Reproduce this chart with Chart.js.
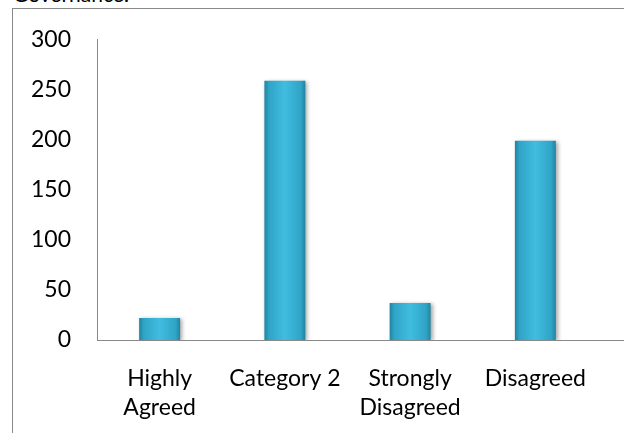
<!DOCTYPE html>
<html>
<head>
<meta charset="utf-8">
<script src="https://cdn.jsdelivr.net/npm/chart.js@4/dist/chart.umd.min.js"></script>
<style>
  html, body { margin:0; padding:0; background:#fff; }
  body { width:624px; height:433px; position:relative; overflow:hidden; font-family:Lato, sans-serif; }
  .frame { position:absolute; left:12px; top:8px; width:640px; height:460px; border-left:1px solid #888; border-top:1px solid #888; }
  .caption { position:absolute; left:13px; top:-19px; font-size:21px; color:#000; }
  .wrap { position:absolute; left:0; top:0; width:624px; height:433px; }
</style>
</head>
<body>
<div class="caption">Governance.</div>
<div class="frame"></div>
<div class="wrap"><canvas id="chart"></canvas></div>
<script>
// Data
const categories = [['Highly', 'Agreed'], 'Category 2', ['Strongly', 'Disagreed'], 'Disagreed'];
const values     = [22, 259, 37, 199];
const yTicks     = [0, 50, 100, 150, 200, 250, 300];

// Bar fill: dark edges, light middle
function barFill(c) {
    const chart = c.chart;
    if (!chart.chartArea) return '#38b0d0';
    const x = chart.scales.x.getPixelForValue(c.dataIndex);
    const g = chart.ctx.createLinearGradient(x - 21, 0, x + 21, 0);
    g.addColorStop(0, '#1f7f9c');
    g.addColorStop(0.12, '#2fa4c6');
    g.addColorStop(0.5, '#40bde0');
    g.addColorStop(0.88, '#2fa4c6');
    g.addColorStop(1, '#1f7f9c');
    return g;
}

// Shadow under bars + x axis running out to the right edge
const extras = {
    id: 'extras',
    beforeDatasetsDraw(chart) {
        const ctx = chart.ctx;
        ctx.save();
        ctx.shadowColor = 'rgba(0,0,0,0.35)';
        ctx.shadowBlur = 4;
        ctx.shadowOffsetX = 2;
        ctx.shadowOffsetY = 1;
    },
    afterDatasetsDraw(chart) {
        chart.ctx.restore();
    },
    afterDraw(chart) {
        const ctx = chart.ctx, a = chart.chartArea;
        ctx.save();
        ctx.strokeStyle = '#888';
        ctx.lineWidth = 1;
        ctx.beginPath();
        ctx.moveTo(a.right, Math.round(a.bottom) + 0.5);
        ctx.lineTo(chart.width, Math.round(a.bottom) + 0.5);
        ctx.stroke();
        ctx.restore();
    }
};

new Chart(document.getElementById('chart'), {
    type: 'bar',
    data: {
        labels: categories,
        datasets: [{ data: values, backgroundColor: barFill,
            barPercentage: 0.327, categoryPercentage: 1 }]
    },
    options: {
        responsive: true, maintainAspectRatio: false, animation: false,
        layout: { padding: { top: 34, right: 26, bottom: 0, left: 0 } },
        plugins: { legend: { display: false }, tooltip: { enabled: false } },
        scales: {
            x: {
                grid: { display: false, drawTicks: false },
                border: { color: '#888', width: 1 },
                ticks: { color: '#000', font: { family: 'Lato', size: 23, lineHeight: 1.22 }, padding: 25, maxRotation: 0, autoSkip: false },
                afterFit(s) { s.height = 93; }
            },
            y: {
                min: 0, max: 300,
                grid: { display: false, drawTicks: false },
                border: { color: '#888', width: 1 },
                afterBuildTicks(s) { s.ticks = yTicks.map(v => ({ value: v })); },
                ticks: { color: '#000', font: { family: 'Lato', size: 23 }, padding: 26 },
                afterFit(s) { s.width = 97; }
            }
        }
    },
    plugins: [extras]
});
</script>
</body>
</html>
